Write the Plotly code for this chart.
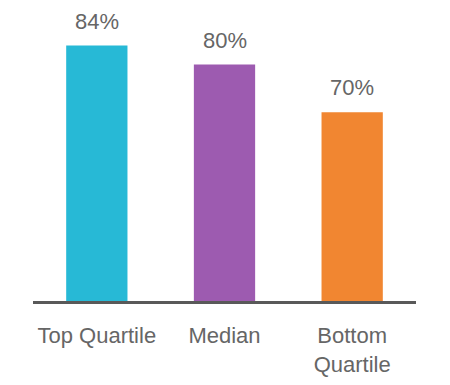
import plotly.graph_objects as go

categories = ["Top Quartile", "Median", "Bottom<br>Quartile"]
values = [84, 80, 70]
value_labels = ["84%", "80%", "70%"]
colors = ["#27B9D6", "#9D5BB0", "#F18631"]

FONT = "Arial, Liberation Sans"

fig = go.Figure()
fig.add_trace(go.Bar(
    x=categories, y=values, marker=dict(color=colors, line=dict(width=0)),
    width=0.48, hoverinfo="skip",
))

for c, v, t in zip(categories, values, value_labels):
    fig.add_annotation(x=c, y=v, text=t, showarrow=False, xref="x", yref="y",
                       yanchor="bottom", yshift=10,
                       font=dict(family=FONT, size=22, color="#666666"))

fig.update_layout(
    width=442, height=377,
    margin=dict(l=25, r=34, t=0, b=84),
    paper_bgcolor="white", plot_bgcolor="white",
    showlegend=False,
    font=dict(family=FONT, size=22, color="#666666"),
    xaxis=dict(showline=True, linecolor="#595959", linewidth=2.5, showgrid=False,
               ticks="", ticklabelstandoff=13, tickfont=dict(size=22, color="#666666"),
               zeroline=False, automargin=False),
    yaxis=dict(range=[30.3, 91.9], visible=False, showgrid=False, zeroline=False,
               automargin=False),
)

fig.write_html("out.html")
